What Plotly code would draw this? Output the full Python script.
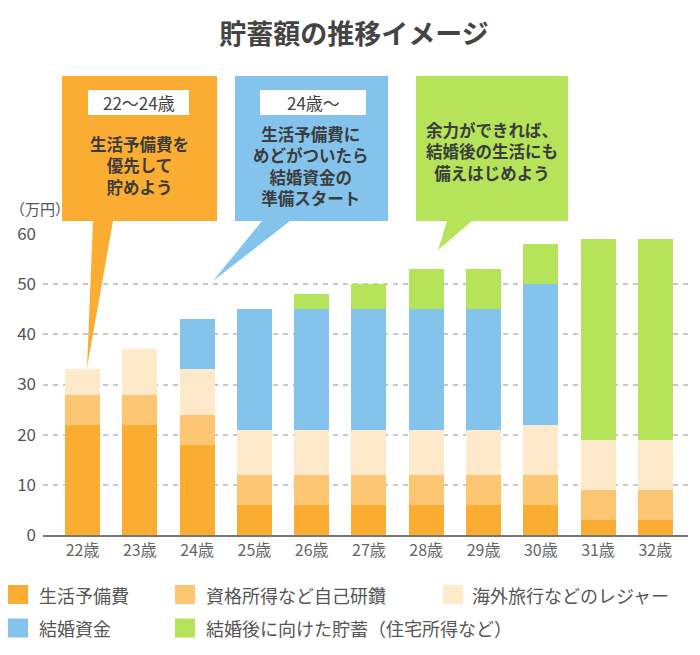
import plotly.graph_objects as go

# ---- data ----
ages = ["22歳", "23歳", "24歳", "25歳", "26歳", "27歳", "28歳", "29歳", "30歳", "31歳", "32歳"]
series_names = ["生活予備費", "資格所得など自己研鑽", "海外旅行などのレジャー", "結婚資金",
                "結婚後に向けた貯蓄（住宅所得など）"]
living_reserve = [22, 22, 18, 6, 6, 6, 6, 6, 6, 3, 3]
self_study = [6, 6, 6, 6, 6, 6, 6, 6, 6, 6, 6]
leisure = [5, 9, 9, 9, 9, 9, 9, 9, 10, 10, 10]
wedding_fund = [0, 0, 10, 24, 24, 24, 24, 24, 28, 0, 0]
after_marriage = [0, 0, 0, 0, 3, 5, 8, 8, 8, 40, 40]
y_ticks = [0, 10, 20, 30, 40, 50, 60]

colors = ["#FBAD33", "#FDC672", "#FEE9CA", "#84C4EC", "#B5E35A"]
values = [living_reserve, self_study, leisure, wedding_fund, after_marriage]

FONT = "Noto Sans CJK JP"
OFF = 8  # page body margin
W, H = 700 - OFF, 655 - OFF
# plot area in page pixels
PX0, PX1, PY0, PY1 = 43, 688, 234, 535
L, R, T, B = PX0 - OFF, W - (PX1 - OFF), PY0 - OFF, H - (PY1 - OFF)

fig = go.Figure()
for name, vals, col in zip(series_names, values, colors):
    fig.add_trace(go.Bar(
        x=ages, y=vals, name=name, marker=dict(color=col, line=dict(width=0)),
        width=0.61, hoverinfo="skip", showlegend=False,
    ))

# page pixel -> paper helpers
def px(x):
    return (x - PX0) / (PX1 - PX0)
def py(y):
    return (PY1 - y) / (PY1 - PY0)

shapes = []
annotations = []

def callout(x0, x1, y0, y1, tail, color):
    path = (f"M{px(x0)},{py(y0)} L{px(x1)},{py(y0)} L{px(x1)},{py(y1)} "
            f"L{px(tail[1][0])},{py(y1)} L{px(tail[2][0])},{py(tail[2][1])} "
            f"L{px(tail[0][0])},{py(y1)} L{px(x0)},{py(y1)} Z")
    shapes.append(dict(type="path", xref="paper", yref="paper", path=path,
                       fillcolor=color, line=dict(width=0), layer="above"))

callout(62, 217, 76, 221, [(93, 221), (113, 221), (87, 368)], colors[0])
callout(235, 388, 76, 221, [(262, 221), (290, 221), (213, 281)], colors[3])
callout(416, 568, 76, 221, [(447, 221), (472, 221), (438, 250)], colors[4])

# white label boxes
for (x0, x1, y0, y1, txt) in [(88, 189, 90, 115, "22～24歳"), (260, 366, 90, 115, "24歳～")]:
    shapes.append(dict(type="rect", xref="paper", yref="paper", x0=px(x0), x1=px(x1),
                       y0=py(y0), y1=py(y1), fillcolor="white", line=dict(width=0), layer="above"))
    annotations.append(dict(xref="paper", yref="paper", x=px((x0 + x1) / 2), y=py((y0 + y1) / 2),
                            xanchor="center", yanchor="middle",
                            text=txt, showarrow=False, font=dict(family=FONT, size=17, color="#444")))

def block(cx, cy, texts):
    annotations.append(dict(xref="paper", yref="paper", x=px(cx), y=py(cy),
                            text="<b>" + "<br>".join(texts) + "</b>",
                            xanchor="center", yanchor="middle", align="center",
                            showarrow=False, font=dict(family=FONT, size=16.5, color="#3c3c3c")))

block(139, 165, ["生活予備費を", "優先して", "貯めよう"])
block(311, 166, ["生活予備費に", "めどがついたら", "結婚資金の", "準備スタート"])
block(492, 151, ["余力ができれば、", "結婚後の生活にも", "備えはじめよう"])

# unit label
annotations.append(dict(xref="paper", yref="paper", x=px(8), y=py(208), xanchor="left",
                        yanchor="middle",
                        text="（万円）", showarrow=False, font=dict(family=FONT, size=15, color="#555")))

# legend (two rows, three columns)
legend_pos = [(8, 37, 594.5), (175, 204, 594.5), (443, 470, 594.5), (8, 37, 628), (175, 204, 628)]
for name, col, (sx, tx, cy) in zip(series_names, colors, legend_pos):
    shapes.append(dict(type="rect", xref="paper", yref="paper", x0=px(sx), x1=px(sx + 20),
                       y0=py(cy - 9.5), y1=py(cy + 9.5), fillcolor=col, line=dict(width=0)))
    annotations.append(dict(xref="paper", yref="paper", x=px(tx), y=py(cy), xanchor="left",
                            yanchor="middle", text=name, showarrow=False,
                            font=dict(family=FONT, size=18, color="#555")))

fig.update_layout(
    width=W, height=H,
    margin=dict(l=L, r=R, t=T, b=B, pad=0, autoexpand=False),
    paper_bgcolor="white", plot_bgcolor="white",
    barmode="stack",
    showlegend=False,
    font=dict(family=FONT, color="#555"),
    title=dict(text="<b>貯蓄額の推移イメージ</b>", x=0.5, xanchor="center", y=1 - (35 - OFF) / H,
               yanchor="middle", yref="container", font=dict(family=FONT, size=27, color="#444")),
    xaxis=dict(range=[-0.69, 10.57], showgrid=False, showline=True, linecolor="#777", linewidth=1.5,
               tickfont=dict(family=FONT, size=16, color="#666"), ticks="", fixedrange=True),
    yaxis=dict(range=[0, 60], tickvals=y_ticks, showgrid=True, gridcolor="#c8c8c8", gridwidth=1.5,
               griddash="5px,5px", zeroline=False, showline=False, ticks="",
               ticklabelstandoff=6,
               tickfont=dict(family=FONT, size=17, color="#555"), fixedrange=True),
    shapes=shapes, annotations=annotations,
)

fig.write_html("out.html")
